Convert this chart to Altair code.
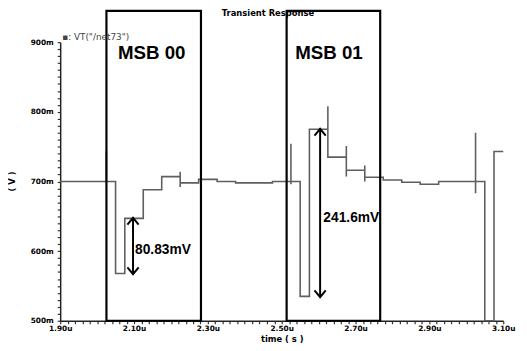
import altair as alt
import pandas as pd

# ---- waveform: time (us) and voltage (mV) ----
t_us = [1.900, 2.025, 2.025, 2.025, 2.050, 2.050, 2.075, 2.075, 2.125, 2.125, 2.175, 2.175,
        2.225, 2.225, 2.225, 2.225, 2.275, 2.275, 2.325, 2.325, 2.375, 2.375, 2.475, 2.475,
        2.525, 2.525, 2.525, 2.525, 2.550, 2.550, 2.575, 2.575, 2.625, 2.625, 2.625,
        2.675, 2.675, 2.675, 2.675, 2.725, 2.725, 2.725, 2.725, 2.775, 2.775, 2.825, 2.825,
        2.875, 2.875, 2.925, 2.925, 3.025, 3.025, 3.025, 3.025, 3.050, 3.050, 3.075, 3.075, 3.100]
v_mv = [700, 700, 745, 700, 700, 568, 568, 647, 647, 688, 688, 707,
        707, 714, 692, 698, 698, 703, 703, 700, 700, 698, 698, 700,
        700, 754, 696, 700, 700, 535, 535, 775, 775, 808, 735,
        735, 751, 707, 716, 716, 723, 700, 706, 706, 702, 702, 699,
        699, 696, 696, 700, 700, 770, 683, 700, 700, 500, 500, 743, 743]

# ---- annotation boxes ----
box_labels = ["MSB 00", "MSB 01"]
box_t0 = [2.0253, 2.5133]
box_t1 = [2.2813, 2.7667]
box_bottom = [500, 500]
box_top = [945, 945]
box_label_t = [2.148, 2.628]
box_label_v = [884, 884]

# ---- measurement arrows ----
arrow_labels = ["80.83mV", "241.6mV"]
arrow_t = [2.0973, 2.604]
arrow_lo = [566.9, 534.0]
arrow_hi = [647.7, 775.6]
arrow_label_t = [2.1027, 2.6128]
arrow_label_v = [602, 648]

legend_text = ["\u25aa: VT(\"/net73\")"]
legend_t = [1.9053]
legend_v = [907]

title_text = ["Transient Response"]
title_t = [2.4627]
title_v = [942]

x_ticks = [round(1.90 + 0.02 * i, 2) for i in range(61)]
y_ticks = list(range(500, 901, 10))

wave = pd.DataFrame({"t": t_us, "v": v_mv, "i": list(range(len(t_us)))})
boxes = pd.DataFrame({"t": box_t0, "t1": box_t1, "v": box_bottom, "hi": box_top,
                      "lt": box_label_t, "lv": box_label_v, "label": box_labels})
arrows = pd.DataFrame({"t": arrow_t, "v": arrow_lo, "hi": arrow_hi,
                       "lt": arrow_label_t, "lv": arrow_label_v, "label": arrow_labels})
legend = pd.DataFrame({"t": legend_t, "v": legend_v, "label": legend_text})
titles = pd.DataFrame({"t": title_t, "v": title_v, "label": title_text})

xscale = alt.Scale(domain=[1.90, 3.10], nice=False, zero=False)
yscale = alt.Scale(domain=[500, 900], nice=False, zero=False)

xaxis = alt.Axis(
    values=x_ticks,
    labelExpr="round(datum.value*50) % 10 == 5 ? format(datum.value, '.2f') + 'u' : ''",
    title="time ( s )", titleY=18, titleBaseline="middle",
    labelPadding=1, labelOverlap=False, tickSize=3,
)
yaxis = alt.Axis(
    values=y_ticks,
    labelExpr="datum.value % 100 == 0 ? datum.value + 'm' : ''",
    title="( V )", titleX=-49, titleY=141, titleAlign="center", titleBaseline="middle",
    labelPadding=4, labelOverlap=False, tickSize=3,
)

X = alt.X("t:Q", scale=xscale, axis=xaxis, title="time ( s )")
Y = alt.Y("v:Q", scale=yscale, axis=yaxis, title="( V )")

line = alt.Chart(wave).mark_line(color="#5f5f5f", strokeWidth=1.6, clip=False).encode(
    x=X, y=Y, order="i:Q",
)

rects = alt.Chart(boxes).mark_rect(fill="white", fillOpacity=0, stroke="black",
                                   strokeWidth=2.2, clip=False).encode(
    x=X, x2="t1:Q", y=Y, y2="hi:Q",
)

bold_font = "Liberation Sans"
box_text = alt.Chart(boxes).mark_text(font=bold_font, fontSize=19, fontWeight="bold",
                                      color="black", align="center", baseline="middle",
                                      clip=False).encode(
    x=alt.X("lt:Q", scale=xscale, axis=xaxis, title="time ( s )"),
    y=alt.Y("lv:Q", scale=yscale, axis=yaxis, title="( V )"),
    text="label:N",
)

shaft = alt.Chart(arrows).mark_rule(color="black", strokeWidth=2).encode(
    x=X, y=Y, y2="hi:Q",
)
head_up = alt.Chart(arrows).mark_point(shape="M-1,1.2L0,0L1,1.2", size=130, color="black",
                                       strokeWidth=2, filled=False, opacity=1).encode(
    x=X, y=alt.Y("hi:Q", scale=yscale, axis=yaxis, title="( V )"),
)
head_dn = alt.Chart(arrows).mark_point(shape="M-1,-1.2L0,0L1,-1.2", size=130, color="black",
                                       strokeWidth=2, filled=False, opacity=1).encode(
    x=X, y=Y,
)
arrow_text = alt.Chart(arrows).mark_text(font=bold_font, fontSize=14, fontWeight="bold",
                                         color="black", align="left", baseline="middle").encode(
    x=alt.X("lt:Q", scale=xscale, axis=xaxis, title="time ( s )"),
    y=alt.Y("lv:Q", scale=yscale, axis=yaxis, title="( V )"),
    text="label:N",
)

legend_mark = alt.Chart(legend).mark_text(font="DejaVu Sans", fontSize=9, color="#444",
                                          align="left", baseline="middle", clip=False).encode(
    x=X, y=Y, text="label:N",
)

title_mark = alt.Chart(titles).mark_text(font="DejaVu Sans", fontSize=8.5, fontWeight="bold",
                                         color="black", align="center", baseline="middle",
                                         clip=False).encode(
    x=X, y=Y, text="label:N",
)

chart = alt.layer(line, rects, box_text, shaft, head_up, head_dn, arrow_text,
                  legend_mark, title_mark).properties(
    width=450, height=283,
    autosize=alt.AutoSizeParams(type="none"),
    padding={"left": 53, "top": 32, "right": 16, "bottom": 28},
    background="white",
).configure_view(stroke=None).configure_axis(
    labelFont="DejaVu Sans", labelFontSize=7.5, labelFontWeight="bold", labelColor="black",
    labelOverlap=False, labelFlush=False, labelBound=False,
    titleFont="DejaVu Sans", titleFontSize=8.5, titleFontWeight="bold", titleColor="black",
    tickColor="#333", tickWidth=1.2, ticks=True,
    domainColor="#222", domainWidth=1.5, grid=False,
)

chart.save("out.html", embed_options={"renderer": "svg", "actions": False})
